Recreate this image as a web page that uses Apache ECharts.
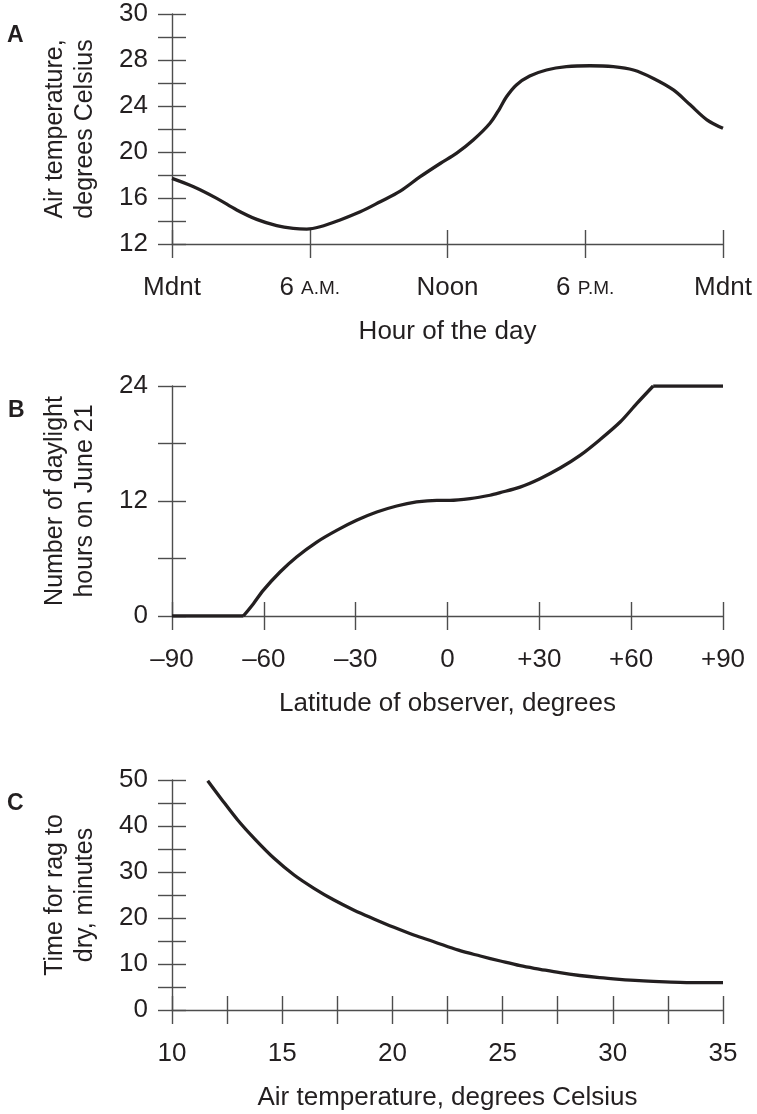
<!DOCTYPE html>
<html>
<head>
<meta charset="utf-8">
<script src="https://cdn.jsdelivr.net/npm/echarts@6/dist/echarts.min.js"></script>
<style>
html,body{margin:0;padding:0;background:#fff;}
#chart{width:757px;height:1114px;}
</style>
</head>
<body>
<div id="chart"></div>
<script>
// ---------- Data ----------
// Panel A: air temperature through the day
const hoursA = [0,0.94,1.95,2.82,3.69,4.56,5.28,5.87,6.45,7.32,8.2,9.07,9.94,10.81,11.68,12.4,13.12,13.85,14.28,14.57,15.0,15.58,16.31,17.18,18.2,19.22,20.1,20.97,21.84,22.57,23.3,24];
const tempA = [17.71,16.98,15.97,14.96,14.14,13.6,13.36,13.3,13.5,14.09,14.8,15.68,16.6,17.85,19.0,19.9,21.04,22.5,23.8,24.8,25.83,26.6,27.13,27.42,27.5,27.42,27.13,26.4,25.4,24.1,22.8,22.06];
const xTicksA = ['Mdnt','6 A.M.','Noon','6 P.M.','Mdnt'];
const yTicksA = ['12','16','20','24','28','30'];

// Panel B: daylight hours on June 21 vs latitude
const latB = [-90,-66.7,-63.4,-60.2,-54.7,-49.3,-42.7,-36.2,-29.7,-23.1,-16.6,-10.1,-3.5,0.8,7.4,13.9,17.2,23.7,30.2,36.8,43.3,49.8,56.4,61.8,67.2,90];
const hoursB = [0,0,1.29,2.68,4.59,6.16,7.72,8.94,9.99,10.85,11.48,11.9,12.07,12.07,12.25,12.6,12.87,13.45,14.33,15.44,16.76,18.4,20.24,22.16,24,24];
const xTicksB = ['\u201390','\u201360','\u201330','0','+30','+60','+90'];
const yTicksB = ['0','12','24'];

// Panel C: time for rag to dry vs air temperature
const tempC = [11.62,12.22,12.98,13.73,14.63,15.54,16.44,17.35,18.26,19.16,20.07,20.97,21.88,23.0,23.99,24.9,25.8,26.7,27.6,28.5,29.4,30.3,31.2,32.1,33.05,34.1,35];
const minC = [49.85,46.0,41.3,37.3,32.97,29.35,26.46,23.9,21.7,19.8,17.97,16.3,14.85,13.0,11.74,10.65,9.63,8.85,8.1,7.5,7.03,6.67,6.37,6.16,6.0,5.93,5.93];
const xTicksC = ['10','15','20','25','30','35'];
const yTicksC = ['0','10','20','30','40','50'];

// ---------- Styling ----------
const FONT = '"Liberation Sans", Arial, Helvetica, sans-serif';
const AX = '#4d4d4d';
const TXT = '#231f20';
const LINE = '#231f20';

function zip(a, b){ return a.map((v,i)=>[v,b[i]]); }

function xAxis(grid, min, max, interval, minorSplit, formatter, name, inside){
  return {
    type:'value', gridIndex:grid, min:min, max:max, interval:interval, position:'bottom',
    axisLine:{show:!inside, onZero:false, lineStyle:{color:AX, width:1.4}},
    axisTick:{show:true, inside:inside, length:14, lineStyle:{color:AX, width:1.4}},
    minorTick:{show:minorSplit>0, splitNumber:minorSplit||1, length:14, lineStyle:{color:AX, width:1.4}},
    splitLine:{show:false}, minorSplitLine:{show:false},
    axisLabel:{show:!inside, margin:31, formatter:formatter, color:TXT, fontSize:26, fontFamily:FONT,
      showMinLabel:true, showMaxLabel:true, hideOverlap:false,
      rich:{n:{fontSize:26, fontFamily:FONT, color:TXT, verticalAlign:'bottom'},
            sc:{fontSize:19, fontFamily:FONT, color:TXT, verticalAlign:'bottom', padding:[0,0,3,0]}}},
    name: inside ? '' : name, nameLocation:'middle', nameGap:75,
    nameTextStyle:{fontSize:26, fontFamily:FONT, color:TXT}
  };
}
function yAxis(grid, min, max, interval, minorSplit, formatter, name, inside){
  return {
    type:'value', gridIndex:grid, min:min, max:max, interval:interval, position:'left', offset:0,
    axisLine:{show:!inside, onZero:false, lineStyle:{color:AX, width:1.4}},
    axisTick:{show:true, inside:inside, length:14, lineStyle:{color:AX, width:1.4}},
    minorTick:{show:minorSplit>0, splitNumber:minorSplit||1, length:14, lineStyle:{color:AX, width:1.4}},
    splitLine:{show:false}, minorSplitLine:{show:false},
    axisLabel:{show:!inside, margin:24, formatter:formatter, color:TXT, fontSize:26, fontFamily:FONT,
      showMinLabel:true, showMaxLabel:true},
    name: inside ? '' : name, nameLocation:'middle', nameGap:72, nameRotate:90,
    nameTextStyle:{fontSize:25, fontFamily:FONT, color:TXT, lineHeight:30}
  };
}

const fmtXA = v => { const s = xTicksA[Math.round(v/6)] || ''; const m = s.match(/^(\d+) (.*)$/); return m ? '{n|' + m[1] + ' }{sc|' + m[2] + '}' : s; };
const fmtYA = v => yTicksA[Math.round((v-12)/4)] || '';
const fmtXB = v => xTicksB[Math.round((v+90)/30)] || '';
const fmtYB = v => yTicksB[Math.round(v/12)] || '';
const fmtXC = v => xTicksC[Math.round((v-10)/5)] || '';
const fmtYC = v => yTicksC[Math.round(v/10)] || '';

const grids = [
  {left:172, right:34, top:14, height:230},
  {left:172, right:34, top:386, height:230},
  {left:172, right:34, top:780, height:230}
];

const xAxes = [
  xAxis(0, 0, 24, 6, 0, fmtXA, 'Hour of the day', false),
  xAxis(0, 0, 24, 6, 0, fmtXA, '', true),
  xAxis(1, -90, 90, 30, 0, fmtXB, 'Latitude of observer, degrees', false),
  xAxis(1, -90, 90, 30, 0, fmtXB, '', true),
  xAxis(2, 10, 35, 5, 2, fmtXC, 'Air temperature, degrees Celsius', false),
  xAxis(2, 10, 35, 5, 2, fmtXC, '', true)
];
const yAxes = [
  yAxis(0, 12, 32, 4, 2, fmtYA, 'Air temperature,\ndegrees Celsius', false),
  yAxis(0, 12, 32, 4, 2, fmtYA, '', true),
  yAxis(1, 0, 24, 12, 2, fmtYB, 'Number of daylight\nhours on June 21', false),
  yAxis(1, 0, 24, 12, 2, fmtYB, '', true),
  yAxis(2, 0, 50, 10, 2, fmtYC, 'Time for rag to\ndry, minutes', false),
  yAxis(2, 0, 50, 10, 2, fmtYC, '', true)
];

function lineSeries(xi, yi, data, smooth){
  return {type:'line', xAxisIndex:xi, yAxisIndex:yi, data:data, smooth:smooth, showSymbol:false, symbol:'none',
    lineStyle:{color:LINE, width:3.3, cap:'butt', join:'round'}, animation:false, z:5};
}

const ptsB = zip(latB, hoursB);
const nB = ptsB.length;

const option = {
  animation:false,
  backgroundColor:'#fff',
  grid: grids,
  xAxis: xAxes,
  yAxis: yAxes,
  series: [
    lineSeries(0, 0, zip(hoursA, tempA), 0.35),
    // B: flat polar segments drawn straight, the curved part smoothed between them
    lineSeries(2, 2, ptsB.slice(0, 2), false),
    lineSeries(2, 2, ptsB.slice(1, nB - 1), 0.3),
    lineSeries(2, 2, ptsB.slice(nB - 2), false),
    lineSeries(4, 4, zip(tempC, minC), 0.35)
  ],
  graphic: [
    {type:'text', left:7, top:24, style:{text:'A', fontSize:23, fontWeight:'bold', fontFamily:FONT, fill:TXT}},
    {type:'text', left:8, top:399, style:{text:'B', fontSize:23, fontWeight:'bold', fontFamily:FONT, fill:TXT}},
    {type:'text', left:7, top:792, style:{text:'C', fontSize:23, fontWeight:'bold', fontFamily:FONT, fill:TXT}}
  ]
};

const chart = echarts.init(document.getElementById('chart'), null, {renderer:'canvas'});
chart.setOption(option);
</script>
</body>
</html>
